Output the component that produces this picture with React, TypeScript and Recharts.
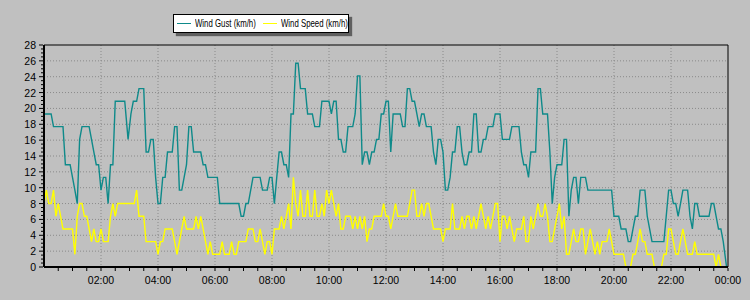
import { LineChart, Line, XAxis, YAxis, CartesianGrid, ReferenceLine } from "recharts";

// minutes since midnight, km/h
const gust: [number, number][] = [
  [0, 19.3], [15, 19.3], [20, 17.7], [40, 17.7], [45, 12.9], [55, 12.9], [60, 11.3], [65, 9.7], [70, 8], [75, 16.1],
  [80, 17.7], [95, 17.7], [100, 16.1], [105, 14.5], [110, 12.9], [115, 12.9], [120, 9.7], [125, 11.3], [130, 11.3], [135, 8],
  [140, 12.9], [145, 12.9], [150, 20.9], [170, 20.9], [177, 16.1], [183, 19.3], [188, 20.9], [195, 20.9], [200, 22.5], [210, 22.5],
  [215, 14.5], [220, 14.5], [225, 16.1], [230, 16.1], [235, 11.3], [240, 8], [245, 8], [250, 11.3], [255, 11.3], [260, 14.5],
  [270, 14.5], [275, 17.7], [280, 17.7], [285, 9.7], [290, 9.7], [295, 11.3], [300, 12.9], [305, 17.7], [310, 17.7], [315, 14.5],
  [330, 14.5], [335, 12.9], [340, 12.9], [345, 11.3], [365, 11.3], [370, 8], [410, 8], [415, 6.4], [420, 6.4], [425, 8],
  [430, 8], [440, 11.3], [455, 11.3], [460, 9.7], [470, 9.7], [475, 11.3], [480, 11.3], [485, 8], [490, 11.3], [495, 14.5],
  [500, 14.5], [505, 12.9], [510, 12.9], [515, 11.3], [520, 19.3], [525, 19.3], [530, 25.7], [535, 25.7], [540, 22.5], [550, 22.5],
  [555, 19.3], [565, 19.3], [570, 17.7], [580, 17.7], [585, 20.9], [600, 20.9], [605, 19.3], [610, 20.9], [615, 20.9], [620, 16.1],
  [625, 16.1], [630, 14.5], [635, 14.5], [640, 17.7], [650, 17.7], [655, 19.3], [660, 24.1], [665, 24.1], [670, 12.9], [675, 14.5],
  [680, 14.5], [685, 12.9], [690, 14.5], [695, 14.5], [700, 16.1], [705, 16.1], [710, 19.3], [715, 19.3], [720, 20.9], [725, 20.9],
  [730, 14.5], [735, 19.3], [750, 19.3], [755, 17.7], [760, 17.7], [765, 22.5], [770, 22.5], [775, 20.9], [780, 20.9], [785, 19.3],
  [790, 17.7], [795, 19.3], [800, 19.3], [805, 17.7], [815, 17.7], [820, 14.5], [825, 12.9], [830, 16.1], [835, 16.1], [840, 14.5],
  [845, 9.7], [850, 9.7], [855, 11.3], [860, 14.5], [865, 14.5], [870, 17.7], [875, 17.7], [880, 14.5], [885, 12.9], [890, 12.9],
  [895, 14.5], [900, 14.5], [905, 19.3], [910, 19.3], [915, 14.5], [920, 14.5], [925, 16.1], [930, 16.1], [935, 17.7], [945, 17.7],
  [950, 19.3], [960, 19.3], [965, 16.1], [980, 16.1], [985, 17.7], [1000, 17.7], [1005, 14.5], [1010, 12.9], [1015, 12.9], [1020, 11.3],
  [1025, 14.5], [1035, 14.5], [1040, 22.5], [1045, 22.5], [1050, 19.3], [1060, 19.3], [1065, 14.5], [1070, 8], [1075, 11.3], [1080, 12.9],
  [1090, 12.9], [1095, 16.1], [1100, 16.1], [1105, 6.4], [1110, 9.7], [1115, 11.3], [1120, 11.3], [1125, 8], [1130, 11.3], [1140, 11.3],
  [1145, 9.7], [1195, 9.7], [1200, 6.4], [1210, 6.4], [1215, 4.8], [1225, 4.8], [1230, 3.2], [1235, 3.2], [1240, 4.8], [1245, 6.4],
  [1250, 6.4], [1255, 9.7], [1265, 9.7], [1270, 6.4], [1275, 4.8], [1280, 3.2], [1305, 3.2], [1315, 9.7], [1320, 9.7], [1325, 8],
  [1330, 8], [1335, 6.4], [1340, 8], [1345, 9.7], [1355, 9.7], [1360, 6.4], [1365, 4.8], [1370, 8], [1375, 8], [1380, 6.4],
  [1400, 6.4], [1405, 8], [1410, 8], [1415, 6.4], [1420, 4.8], [1425, 4.8], [1430, 3.2], [1437, 0],
];

const speed: [number, number][] = [
  [0, 8], [5, 9.7], [10, 8], [15, 8], [20, 9.7], [25, 6.4], [30, 8], [35, 6.4], [40, 4.8], [60, 4.8],
  [65, 1.6], [70, 6.4], [75, 8], [80, 8], [85, 6.4], [90, 6.4], [95, 4.8], [100, 3.2], [105, 4.8], [110, 3.2],
  [115, 3.2], [120, 4.8], [125, 3.2], [135, 3.2], [140, 6.4], [145, 8], [150, 6.4], [155, 8], [190, 8], [195, 9.7],
  [200, 6.4], [210, 6.4], [215, 3.2], [235, 3.2], [240, 1.6], [245, 3.2], [250, 3.2], [255, 4.8], [270, 4.8], [275, 3.2],
  [280, 1.6], [285, 3.2], [290, 4.8], [295, 6.4], [300, 4.8], [315, 4.8], [320, 6.4], [325, 4.8], [330, 6.4], [335, 4.8],
  [340, 3.2], [345, 1.6], [350, 3.2], [355, 1.6], [370, 1.6], [375, 3.2], [380, 1.6], [390, 1.6], [395, 3.2], [400, 1.6],
  [405, 1.6], [410, 3.2], [425, 3.2], [430, 4.8], [440, 4.8], [445, 3.2], [450, 3.2], [455, 4.8], [460, 3.2], [465, 1.6],
  [470, 3.2], [475, 3.2], [480, 1.6], [485, 4.8], [495, 4.8], [500, 6.4], [505, 4.8], [510, 6.4], [515, 8], [520, 4.8],
  [525, 11.3], [530, 8], [535, 6.4], [540, 9.7], [545, 6.4], [550, 6.4], [555, 9.7], [560, 6.4], [565, 6.4], [570, 9.7],
  [575, 6.4], [580, 6.4], [585, 8], [590, 6.4], [595, 9.7], [600, 8], [605, 9.7], [610, 8], [615, 6.4], [620, 8],
  [625, 4.8], [630, 4.8], [635, 6.4], [645, 6.4], [650, 4.8], [655, 6.4], [660, 4.8], [665, 6.4], [670, 4.8], [675, 6.4],
  [680, 3.2], [685, 4.8], [690, 4.8], [695, 6.4], [710, 6.4], [715, 8], [720, 6.4], [725, 6.4], [730, 4.8], [735, 6.4],
  [740, 8], [745, 6.4], [765, 6.4], [770, 8], [775, 9.7], [780, 9.7], [785, 6.4], [790, 6.4], [795, 8], [800, 6.4],
  [805, 8], [810, 8], [815, 6.4], [820, 4.8], [835, 4.8], [840, 3.2], [845, 4.8], [855, 4.8], [860, 8], [865, 4.8],
  [875, 4.8], [880, 6.4], [885, 4.8], [890, 6.4], [895, 6.4], [900, 4.8], [905, 6.4], [910, 4.8], [915, 6.4], [920, 8],
  [925, 6.4], [930, 4.8], [935, 6.4], [940, 4.8], [945, 6.4], [950, 8], [955, 8], [960, 3.2], [965, 6.4], [970, 6.4],
  [975, 4.8], [980, 6.4], [990, 3.2], [995, 4.8], [1005, 4.8], [1010, 6.4], [1015, 3.2], [1020, 3.2], [1025, 6.4], [1030, 4.8],
  [1035, 6.4], [1040, 8], [1045, 6.4], [1050, 6.4], [1055, 8], [1060, 6.4], [1065, 3.2], [1070, 3.2], [1075, 4.8], [1080, 6.4],
  [1085, 8], [1090, 4.8], [1095, 6.4], [1100, 1.6], [1105, 1.6], [1110, 3.2], [1115, 4.8], [1120, 3.2], [1125, 3.2], [1130, 4.8],
  [1135, 4.8], [1140, 1.6], [1145, 3.2], [1150, 4.8], [1155, 3.2], [1160, 1.6], [1165, 3.2], [1170, 1.6], [1175, 3.2], [1185, 3.2],
  [1190, 4.8], [1195, 3.2], [1200, 1.6], [1220, 1.6], [1225, 0], [1235, 0], [1240, 1.6], [1245, 1.6], [1250, 3.2], [1255, 4.8],
  [1260, 3.2], [1265, 3.2], [1270, 1.6], [1280, 1.6], [1285, 0], [1300, 0], [1305, 1.6], [1310, 1.6], [1315, 4.8], [1320, 4.8],
  [1325, 3.2], [1330, 1.6], [1335, 1.6], [1340, 3.2], [1345, 4.8], [1350, 3.2], [1355, 1.6], [1365, 1.6], [1370, 3.2], [1375, 1.6],
  [1410, 1.6], [1415, 0], [1420, 1.6], [1425, 0], [1440, 0],
];

const xTickMinutes = [120, 240, 360, 480, 600, 720, 840, 960, 1080, 1200, 1320, 1440];
const xTickLabels = ["02:00", "04:00", "06:00", "08:00", "10:00", "12:00", "14:00", "16:00", "18:00", "20:00", "22:00", "00:00"];
const yTicks = [0, 2, 4, 6, 8, 10, 12, 14, 16, 18, 20, 22, 24, 26, 28];

const GUST_COLOR = "#0e8a8a";
const SPEED_COLOR = "#ffff00";
const FONT = "'Liberation Sans', Arial, sans-serif";

// half-hour marks on x, half-unit marks on y
const xMinor = Array.from({ length: 48 }, (_, i) => (i + 1) * 30);
const yMinor = Array.from({ length: 57 }, (_, i) => i * 0.5);

const gustData = gust.map(([t, v]) => ({ t, v }));
const speedData = speed.map(([t, v]) => ({ t, v }));

function XTick({ x, y, payload }: any) {
  const idx = xTickMinutes.indexOf(payload.value);
  return (
    <g>
      <line x1={x} y1={y + 1} x2={x} y2={y + 4} stroke="#000" />
      {idx >= 0 && (
        <text x={x} y={y + 17} textAnchor="middle" fontSize={10.5} fontFamily={FONT} fill="#000">
          {xTickLabels[idx]}
        </text>
      )}
    </g>
  );
}

function YTick({ x, y, payload }: any) {
  const major = yTicks.includes(payload.value);
  return (
    <g>
      <line x1={x - 1} y1={y} x2={x - (major ? 5 : 3)} y2={y} stroke="#000" />
      {major && (
        <text x={x - 8} y={y + 4} textAnchor="end" fontSize={10.5} fontFamily={FONT} fill="#000">
          {payload.value}
        </text>
      )}
    </g>
  );
}

function LegendBox() {
  const item = (color: string, label: string, left: number) => (
    <div style={{ position: "absolute", left, top: 0, height: 17, width: 80 }}>
      <div style={{ position: "absolute", left: 0, top: 8, width: 14, height: 1, background: color }} />
      <span
        style={{
          position: "absolute",
          left: 18,
          top: 2,
          fontSize: 11,
          lineHeight: "12px",
          whiteSpace: "nowrap",
          display: "inline-block",
          transform: "scaleX(0.71)",
          transformOrigin: "0 50%",
        }}
      >
        {label}
      </span>
    </div>
  );
  return (
    <div
      style={{
        position: "absolute",
        left: 173,
        top: 14,
        width: 174,
        height: 17,
        background: "#fff",
        border: "1px solid #000",
        boxShadow: "3px 3px 1px #606060",
        fontFamily: FONT,
        color: "#000",
      }}
    >
      {item(GUST_COLOR, "Wind Gust (km/h)", 3)}
      {item(SPEED_COLOR, "Wind Speed (km/h)", 89)}
    </div>
  );
}

export default function App() {
  return (
    <div
      style={{
        position: "absolute",
        left: 0,
        top: 0,
        width: 750,
        height: 300,
        background: "#c0c0c0",
        overflow: "hidden",
      }}
    >
      <LineChart width={750} height={300} margin={{ top: 45, right: 22, bottom: 0, left: 8 }}>
        <CartesianGrid
          stroke="#8a8a8a"
          strokeDasharray="1 2"
          horizontalValues={yTicks.slice(1, -1)}
          verticalValues={xTickMinutes.slice(0, -1)}
        />
        <XAxis
          type="number"
          dataKey="t"
          domain={[0, 1440]}
          ticks={xMinor}
          interval={0}
          height={33}
          tickSize={0}
          tickMargin={0}
          tickLine={false}
          tick={<XTick />}
          axisLine={{ stroke: "#000", strokeWidth: 2 }}
          allowDataOverflow
        />
        <YAxis
          type="number"
          domain={[0, 28]}
          ticks={yMinor}
          interval={0}
          width={36}
          tickSize={0}
          tickMargin={0}
          tickLine={false}
          tick={<YTick />}
          axisLine={{ stroke: "#000", strokeWidth: 2 }}
          allowDataOverflow
        />
        <ReferenceLine y={28} stroke="#000" strokeWidth={1} />
        <ReferenceLine x={1440} stroke="#000" strokeWidth={1} />
        <Line
          data={gustData}
          dataKey="v"
          type="linear"
          stroke={GUST_COLOR}
          strokeWidth={1.4}
          dot={false}
          isAnimationActive={false}
        />
        <Line
          data={speedData}
          dataKey="v"
          type="linear"
          stroke={SPEED_COLOR}
          strokeWidth={1.4}
          dot={false}
          isAnimationActive={false}
        />
      </LineChart>
      <LegendBox />
    </div>
  );
}
